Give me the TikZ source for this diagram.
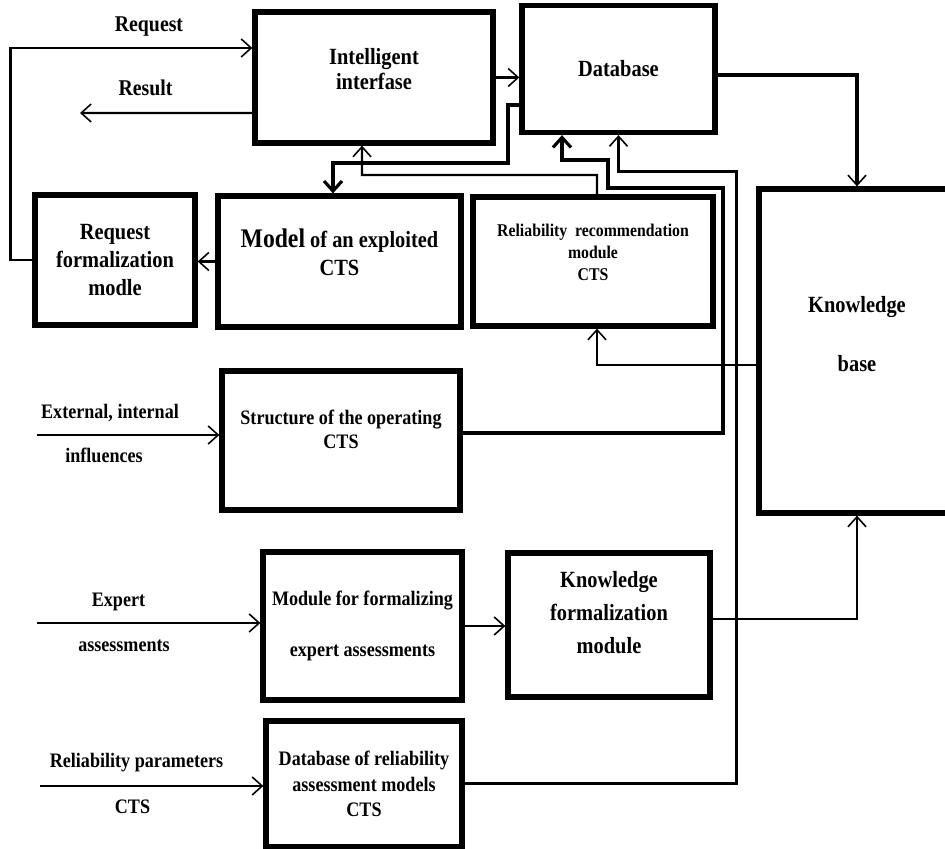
\documentclass[tikz,border=0pt]{standalone}
\usepackage{fontspec}
\setmainfont{Liberation Serif}[FakeStretch=0.88]
\usetikzlibrary{arrows.meta, positioning}

\begin{document}
\begin{tikzpicture}[
  blk/.style={draw, line width=3pt, align=center, inner sep=2pt, font=\bfseries\fontsize{13.2}{14.2}\selectfont},
  midtxt/.style={font=\bfseries\fontsize{11.7}{13.6}\selectfont},
  cn/.style={line width=1.4pt, -{Straight Barb[length=2mm, width=3.6mm, line width=0.9pt]}},
  bcn/.style={line width=2.1pt, -{Straight Barb[length=2mm, width=3.6mm, line width=1.8pt]}},
  lbl/.style={font=\bfseries\fontsize{11.7}{12}\selectfont}
]
  \useasboundingbox (0,0) rectangle (18.9,16.98);
  \clip (0,0) rectangle (18.9,16.98);

  % Top row
  \node[blk, minimum width=4.76cm, minimum height=2.62cm] (ii) at (7.48,15.43) {Intelligent\\interfase\\[-4pt]\mbox{}};
  \node[blk, minimum width=3.86cm, minimum height=2.54cm] (db) at (12.37,15.6) {Database};
  \node[blk, minimum width=3.92cm, minimum height=6.48cm] (kb) at (17.14,9.96) {Knowledge\\[19pt]base\\[5pt]\mbox{}};

  % Second row
  \node[blk, font=\bfseries\fontsize{13.2}{15.9}\selectfont, minimum width=3.2cm, minimum height=2.6cm] (rfm) at (2.3,11.78) {Request\\formalization\\modle};
  \node[blk, font=\bfseries\fontsize{13.2}{15.9}\selectfont, minimum width=4.86cm, minimum height=2.62cm] (model) at (6.79,11.75) {{\fontsize{15.3}{15.9}\selectfont Model} of an exploited\\CTS\\[-5pt]\mbox{}};
  \node[blk, font=\bfseries\fontsize{10.2}{12.5}\selectfont, minimum width=4.8cm, minimum height=2.58cm] (rrm) at (11.86,11.75) {Reliability~~recommendation\\module\\CTS\\[-2pt]\mbox{}};

  % Lower boxes
  \node[blk, midtxt, minimum width=4.76cm, minimum height=2.78cm] (struct) at (6.82,8.17) {Structure of the operating\\CTS\\[-1pt]\mbox{}};
  \node[blk, midtxt, minimum width=3.98cm, minimum height=2.96cm] (mff) at (7.25,4.46) {Module for formalizing\\[15pt]expert assessments};
  \node[blk, font=\bfseries\fontsize{13.2}{18.8}\selectfont, minimum width=4.04cm, minimum height=2.88cm] (kf) at (12.18,4.48) {Knowledge\\formalization\\module\\[-5pt]\mbox{}};
  \node[blk, font=\bfseries\fontsize{11.7}{14.5}\selectfont, minimum width=3.92cm, minimum height=2.52cm] (dbr) at (7.28,1.3) {Database of reliability\\assessment models\\CTS};

  % Labels
  \node[lbl, font=\bfseries\fontsize{12.8}{12}\selectfont] (lreq) at (2.98,16.44) {Request};
  \node[lbl, font=\bfseries\fontsize{12.8}{12}\selectfont] (lres) at (2.91,15.22) {Result};
  \node[lbl] (lext) at (2.2,8.72) {External, internal};
  \node[lbl] (linf) at (2.08,7.88) {influences};
  \node[lbl] (lexp) at (2.37,4.94) {Expert};
  \node[lbl] (lass) at (2.48,4.06) {assessments};
  \node[lbl] (lrel) at (2.73,1.72) {Reliability parameters};
  \node[lbl] (lcts) at (2.65,0.84) {CTS};

  % Free ends
  \coordinate (res) at (1.6,14.72);
  \coordinate (in1) at (0.74,8.28);
  \coordinate (in2) at (0.74,4.52);
  \coordinate (in3) at (0.8,1.26);

  % Connectors
  \draw[cn] (rfm.west) -- ++(-0.44,0) |- ([yshift=0.59cm]ii.west);
  \draw[cn, line width=1.2pt] ([yshift=-0.71cm]ii.west) -- (res);
  \draw[cn] (ii.east) -- (ii.east -| db.west);
  \draw[bcn] ([yshift=-0.72cm]db.west) -| (10.16,13.72) -| ([xshift=-0.13cm]model.north);
  \draw[cn, line width=1.2pt] ([xshift=0.08cm]rrm.north) |- (7.24,13.48) -- ([xshift=-0.24cm]ii.south);
  \draw[bcn] ([yshift=0.15cm]struct.east) -| (14.46,13.22) -| (12.16,13.78) -| ([xshift=-1.13cm]db.south);
  \draw[cn, line width=1.7pt] (dbr.east) -| (14.72,13.54) -| (db.south);
  \draw[cn] ([yshift=-0.28cm]kb.west) -| ([xshift=0.08cm]rrm.south);
  \draw[cn, line width=1.8pt] ([yshift=-0.12cm]db.east) -| (kb.north);
  \draw[cn, line width=1.2pt] ([yshift=0.12cm]kf.east) -| (kb.south);
  \draw[cn, line width=1.2pt] (mff.east) -- (mff.east -| kf.west);
  \draw[cn] (model.west) -- (model.west -| rfm.east);
  \draw[cn] (in1) -- (in1 -| struct.west);
  \draw[cn] (in2) -- (in2 -| mff.west);
  \draw[cn] (in3) -- (in3 -| dbr.west);
\end{tikzpicture}
\end{document}
